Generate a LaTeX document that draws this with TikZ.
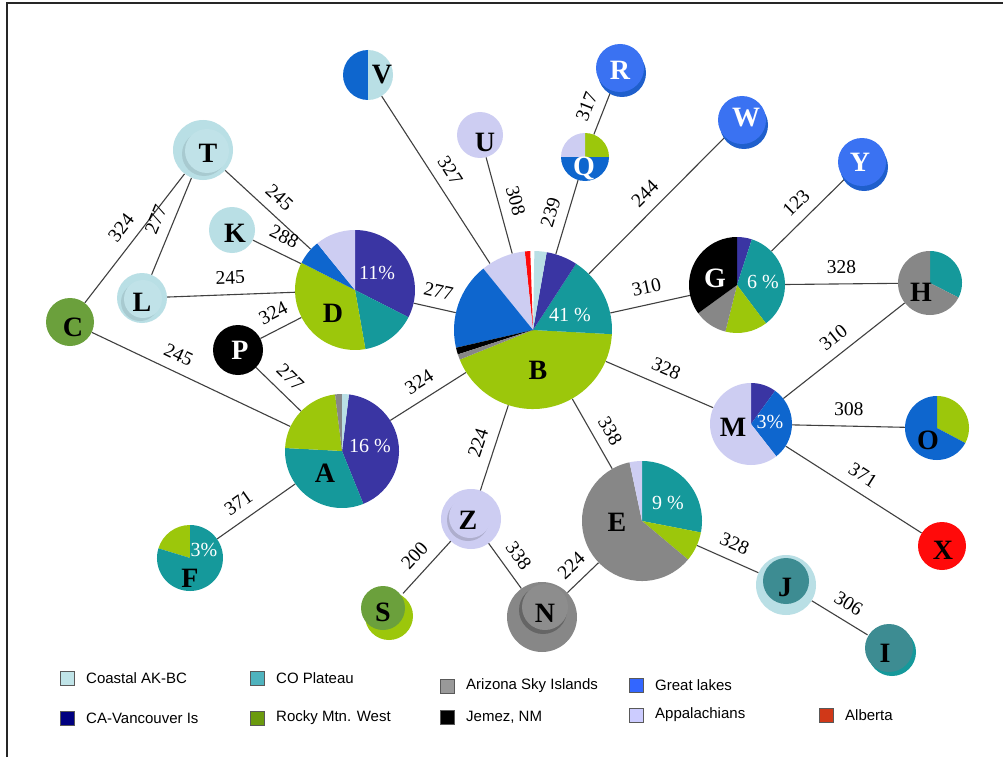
\documentclass[tikz,border=0pt]{standalone}
\usepackage{fontspec}
\setmainfont{Liberation Serif}
\newfontfamily\legfont{Liberation Sans}
\definecolor{cLB}{HTML}{B9DFE5}
\definecolor{cTe}{HTML}{15999B}
\definecolor{cIn}{HTML}{3A35A3}
\definecolor{cGr}{HTML}{9CC70B}
\definecolor{cGy}{HTML}{878787}
\definecolor{cBl}{HTML}{0E66CE}
\definecolor{cLv}{HTML}{CDCDF2}
\definecolor{cRd}{HTML}{FF0A0A}
\definecolor{cOl}{HTML}{6BA03C}
\definecolor{cBr}{HTML}{3A72F2}
\definecolor{cBd}{HTML}{1F5FCC}
\definecolor{cJt}{HTML}{3D8C92}
\definecolor{lLB}{HTML}{C0E4E8}
\definecolor{lTe}{HTML}{4FB3BE}
\definecolor{lGy}{HTML}{999999}
\definecolor{lBl}{HTML}{3366FF}
\definecolor{lIn}{HTML}{000080}
\definecolor{lGr}{HTML}{6B9A0E}
\definecolor{lLv}{HTML}{CCCCFF}
\definecolor{lRd}{HTML}{D03818}
\newcommand\wedgefill[5]{\fill[#5] (#1.center) -- +(#3:#2pt) arc[start angle=#3,end angle=#4,radius=#2pt] -- cycle;}
\begin{document}
\begin{tikzpicture}[x=1pt,y=-1pt,
  hn/.style={circle,inner sep=0pt,minimum size=#1},
  edge/.style={draw=black!75,line width=1.1pt},
  lab/.style={sloped,above=9pt,inner sep=1pt,font=\fontsize{19.5}{19.5}\selectfont},
  let/.style={font=\bfseries\fontsize{28}{28}\selectfont,inner sep=0pt},
  pct/.style={text=white,font=\fontsize{20}{20}\selectfont,inner sep=0pt},
  leg/.style={font=\legfont\fontsize{15}{15}\selectfont,anchor=west,inner sep=0pt},
  sq/.style={draw=black!65,line width=0.6pt,minimum size=14pt,inner sep=0pt}
]
\useasboundingbox (0,0) rectangle (1003,757);
\fill[white] (0,0) rectangle (1003,757);
\draw[line width=2.2pt,black!85] (7,757) -- (7,3) -- (1003,3);

% invisible haplotype nodes
\node[hn=158pt] (B) at (533,330) {};
\node[hn=120pt] (D) at (355,290) {};
\node[hn=114pt] (A) at (342,451) {};
\node[hn=96pt] (G) at (737,285) {};
\node[hn=64pt] (H) at (930,283) {};
\node[hn=82pt] (M) at (751,424) {};
\node[hn=64pt] (O) at (937,428) {};
\node[hn=120pt] (E) at (642,521) {};
\node[hn=66pt] (F) at (190,558) {};
\node[hn=48pt] (Q) at (585,157) {};
\node[hn=50pt] (V) at (368,75) {};
\node[hn=60pt] (T) at (203,150) {};
\node[hn=46pt] (K) at (232,230) {};
\node[hn=50pt] (L) at (142,298) {};
\node[hn=48pt] (C) at (70,322) {};
\node[hn=50pt] (P) at (238,350) {};
\node[hn=46pt] (U) at (480,135) {};
\node[hn=48pt] (R) at (620,68) {};
\node[hn=48pt] (W) at (742,120) {};
\node[hn=48pt] (Y) at (862,162) {};
\node[hn=48pt] (X) at (942,546) {};
\node[hn=60pt] (J) at (786,585) {};
\node[hn=50pt] (I) at (889,648) {};
\node[hn=70pt] (N) at (542,617) {};
\node[hn=58pt] (Z) at (471,519) {};
\node[hn=50pt] (S) at (386,612) {};

% connectors
\draw[edge] (T) -- node[lab]{324} (C);
\draw[edge] (T) -- node[lab]{277} (L);
\draw[edge] (T) -- node[lab]{245} (D);
\draw[edge] (K) -- node[lab]{288} (D);
\draw[edge] (L) -- node[lab]{245} (D);
\draw[edge] (P) -- node[lab]{324} (D);
\draw[edge] (P) -- node[lab]{277} (A);
\draw[edge] (C) -- node[lab,pos=0.4]{245} (A);
\draw[edge] (A) -- node[lab,pos=0.6]{371} (F);
\draw[edge] (A) -- node[lab]{324} (B);
\draw[edge] (D) -- node[lab]{277} (B);
\draw[edge] (V) -- node[lab]{327} (B);
\draw[edge] (U) -- node[lab]{308} (B);
\draw[edge] (Q) -- node[lab]{239} (B);
\draw[edge] (Q) -- node[lab]{317} (R);
\draw[edge] (W) -- node[lab]{244} (B);
\draw[edge] (B) -- node[lab]{310} (G);
\draw[edge] (G) -- node[lab]{123} (Y);
\draw[edge] (G) -- node[lab]{328} (H);
\draw[edge] (B) -- node[lab]{328} (M);
\draw[edge] (H) -- node[lab]{310} (M);
\draw[edge] (M) -- node[lab]{308} (O);
\draw[edge] (M) -- node[lab]{371} (X);
\draw[edge] (B) -- node[lab,pos=0.58]{338} (E);
\draw[edge] (B) -- node[lab]{224} (Z);
\draw[edge] (Z) -- node[lab]{200} (S);
\draw[edge] (Z) -- node[lab]{338} (N);
\draw[edge] (N) -- node[lab]{224} (E);
\draw[edge] (E) -- node[lab]{328} (J);
\draw[edge] (J) -- node[lab]{306} (I);

% pie B
\wedgefill{B}{79}{202}{357}{cGr}
\wedgefill{B}{79}{-3}{57}{cTe}
\wedgefill{B}{79}{57}{80}{cIn}
\wedgefill{B}{79}{80}{89}{cLB}
\wedgefill{B}{79}{92}{96}{cRd}
\wedgefill{B}{79}{96}{129}{cLv}
\wedgefill{B}{79}{129}{193}{cBl}
\wedgefill{B}{79}{193}{198}{black}
\wedgefill{B}{79}{198}{202}{cGy}
% pie D
\wedgefill{D}{60}{-27}{90}{cIn}
\wedgefill{D}{60}{280}{333}{cTe}
\wedgefill{D}{60}{153}{280}{cGr}
\wedgefill{D}{60}{129}{153}{cBl}
\wedgefill{D}{60}{90}{129}{cLv}
% pie A
\wedgefill{A}{57}{-68}{83}{cIn}
\wedgefill{A}{57}{177}{292}{cTe}
\wedgefill{A}{57}{97}{177}{cGr}
\wedgefill{A}{57}{90}{97}{cGy}
\wedgefill{A}{57}{83}{90}{cLB}
% pie G
\wedgefill{G}{48}{72}{90}{cIn}
\wedgefill{G}{48}{-53}{72}{cTe}
\wedgefill{G}{48}{-104}{-53}{cGr}
\wedgefill{G}{48}{216}{256}{cGy}
\wedgefill{G}{48}{90}{216}{black}
% pie H
\wedgefill{H}{32}{-27}{90}{cTe}
\wedgefill{H}{32}{90}{333}{cGy}
% pie M
\wedgefill{M}{41}{54}{90}{cIn}
\wedgefill{M}{41}{-52}{54}{cBl}
\wedgefill{M}{41}{90}{308}{cLv}
% pie O
\wedgefill{O}{32}{-28}{90}{cGr}
\wedgefill{O}{32}{90}{332}{cBl}
% pie E
\wedgefill{E}{60}{-11}{90}{cTe}
\wedgefill{E}{60}{-40}{-11}{cGr}
\wedgefill{E}{60}{102}{320}{cGy}
\wedgefill{E}{60}{90}{102}{cLv}
% pie F
\wedgefill{F}{33}{90}{163}{cGr}
\wedgefill{F}{33}{163}{450}{cTe}
% pie Q
\wedgefill{Q}{24}{0}{90}{cGr}
\wedgefill{Q}{24}{90}{180}{cLv}
\wedgefill{Q}{24}{180}{360}{cBl}
% pie V
\wedgefill{V}{25}{90}{270}{cBl}
\wedgefill{V}{25}{-90}{90}{cLB}

% single-colour beads
\fill[cLB] (T.center) circle[radius=30pt];
\fill[cLB!80!black,opacity=.45] ([shift={(1,4)}]T.center) circle[radius=22pt];
\fill[cLB!90!white] ([shift={(4,1)}]T.center) circle[radius=22pt];
\fill[cLB] (K.center) circle[radius=23pt];
\fill[cLB] (L.center) circle[radius=25pt];
\fill[cLB!80!black,opacity=.45] ([shift={(-2,4)}]L.center) circle[radius=19pt];
\fill[cLB!90!white] ([shift={(1,1)}]L.center) circle[radius=19pt];
\fill[cOl] (C.center) circle[radius=24pt];
\fill[black] (P.center) circle[radius=25pt];
\fill[cLv] (U.center) circle[radius=23pt];
\fill[cBd] ([shift={(2,5)}]R.center) circle[radius=24pt];
\fill[cBr] (R.center) circle[radius=24pt];
\fill[cBd] ([shift={(2,5)}]W.center) circle[radius=24pt];
\fill[cBr] (W.center) circle[radius=24pt];
\fill[cBd] ([shift={(2,5)}]Y.center) circle[radius=24pt];
\fill[cBr] (Y.center) circle[radius=24pt];
\fill[cRd] (X.center) circle[radius=24pt];
\fill[cLB] (J.center) circle[radius=30pt];
\fill[cJt] ([shift={(0,-4)}]J.center) circle[radius=23pt];
\fill[cTe] ([shift={(3,4)}]I.center) circle[radius=24pt];
\fill[cJt] (I.center) circle[radius=24pt];
\fill[cGy] (N.center) circle[radius=35pt];
\fill[black,opacity=.25] ([shift={(1,-7)}]N.center) circle[radius=24pt];
\fill[cGy!95!white] ([shift={(3,-10)}]N.center) circle[radius=23pt];
\fill[cLv] (Z.center) circle[radius=30pt];
\fill[black,opacity=.15] ([shift={(-3,1)}]Z.center) circle[radius=21pt];
\fill[cLv] ([shift={(-1,-2)}]Z.center) circle[radius=21pt];
\fill[cGr] ([shift={(3,4)}]S.center) circle[radius=24pt];
\fill[cOl] ([shift={(-3,-4)}]S.center) circle[radius=22pt];

% letters
\node[let] (tB) at (538,370) {B};
\node[let] (tD) at (333,313) {D};
\node[let] (tA) at (325,473) {A};
\node[let,text=white] (tG) at (715,278) {G};
\node[let] (tH) at (921,292) {H};
\node[let] (tM) at (733,427) {M};
\node[let] (tO) at (928,440) {O};
\node[let] (tE) at (617,522) {E};
\node[let] (tF) at (190,578) {F};
\node[let,text=white] (tQ) at (584,168) {Q};
\node[let] (tV) at (382,75) {V};
\node[let] (tT) at (208,153) {T};
\node[let] (tK) at (235,233) {K};
\node[let] (tL) at (142,302) {L};
\node[let] (tC) at (73,327) {C};
\node[let,text=white] (tP) at (240,350) {P};
\node[let] (tU) at (485,142) {U};
\node[let,text=white] (tR) at (620,70) {R};
\node[let,text=white] (tW) at (746,118) {W};
\node[let,text=white] (tY) at (860,162) {Y};
\node[let] (tX) at (943,550) {X};
\node[let] (tJ) at (785,587) {J};
\node[let] (tI) at (885,653) {I};
\node[let] (tN) at (545,613) {N};
\node[let] (tZ) at (468,520) {Z};
\node[let] (tS) at (383,612) {S};
% percentages
\node[pct] (pB) at (570,315) {41 \%};
\node[pct] (pD) at (377,273) {11\%};
\node[pct] (pA) at (370,446) {16 \%};
\node[pct] (pG) at (763,282) {6 \%};
\node[pct] (pM) at (770,422) {3\%};
\node[pct] (pE) at (668,503) {9 \%};
\node[pct] (pF) at (204,550) {3\%};

% legend
\node[sq,fill=lLB] (s1) at (67,678) {};
\node[leg] (l1) at (86,678) {Coastal AK-BC};
\node[sq,fill=lTe] (s2) at (257,678) {};
\node[leg] (l2) at (276,678) {CO Plateau};
\node[sq,fill=lGy] (s3) at (447,686) {};
\node[leg] (l3) at (466,686) {Arizona Sky Islands};
\node[sq,fill=lBl] (s4) at (636,685) {};
\node[leg] (l4) at (655,685) {Great lakes};
\node[sq,fill=lIn] (s5) at (67,718) {};
\node[leg] (l5) at (86,718) {CA-Vancouver Is};
\node[sq,fill=lGr] (s6) at (257,718) {};
\node[leg] (l6) at (276,718) {Rocky Mtn. West};
\node[sq,fill=black] (s7) at (447,717) {};
\node[leg] (l7) at (466,717) {Jemez, NM};
\node[sq,fill=lLv] (s8) at (636,715) {};
\node[leg] (l8) at (655,715) {Appalachians};
\node[sq,fill=lRd] (s9) at (826,715) {};
\node[leg] (l9) at (845,715) {Alberta};
\end{tikzpicture}
\end{document}
